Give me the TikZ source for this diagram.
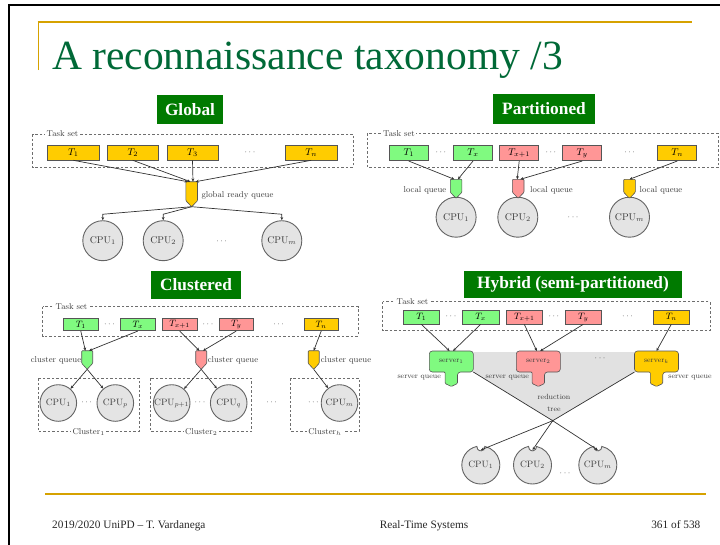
\RequirePackage{fix-cm}
\documentclass[tikz,border=0pt]{standalone}
\usepackage{fontspec}
\newfontfamily\slidefont{Liberation Serif}
\usetikzlibrary{arrows.meta}
\definecolor{titlegreen}{RGB}{0,105,55}
\definecolor{headgreen}{RGB}{0,122,0}
\definecolor{linegold}{RGB}{214,162,0}
\definecolor{tgreen}{RGB}{128,250,128}
\definecolor{tred}{RGB}{255,150,150}
\definecolor{tgold}{RGB}{255,204,0}
\definecolor{cpufill}{RGB}{228,228,228}
\definecolor{cpuborder}{RGB}{100,100,100}
\definecolor{taskborder}{RGB}{85,85,85}
\definecolor{txtgray}{RGB}{60,60,60}
\definecolor{dashgray}{RGB}{110,110,110}
\definecolor{linegray}{RGB}{50,50,50}
\definecolor{treegray}{RGB}{225,225,225}
\newcommand\dfont{\fontsize{8.5}{10}\selectfont}
\newcommand\sfont{\fontsize{7.5}{9}\selectfont}
\newcommand\bigfont{\fontsize{9.8}{11}\selectfont}
\newcommand\midfont{\fontsize{9.2}{11}\selectfont}
\tikzset{
  qshape/.style={draw=taskborder, line width=0.6pt, rounded corners=0.8pt},
  task/.style={draw=taskborder, line width=0.6pt, inner sep=0pt, font=\bigfont},
  cpu/.style={circle, draw=cpuborder, fill=cpufill, line width=0.9pt, inner sep=0pt, text=txtgray, font=\bigfont},
  cpushape/.style={draw=cpuborder, fill=cpufill, line width=0.9pt},
  cputxt/.style={text=txtgray, font=\midfont, inner sep=0pt},
  tset/.style={draw=dashgray, line width=0.6pt, dash pattern=on 2.5pt off 2pt},
  lbl/.style={text=txtgray, font=\dfont, inner sep=1pt},
  slbl/.style={text=txtgray, font=\sfont, inner sep=1pt},
  tsetlbl/.style={lbl, fill=white, inner sep=1.5pt},
  dots/.style={text=txtgray, font=\dfont, inner sep=0pt},
  arr/.style={draw=linegray, line width=0.7pt, -{Stealth[length=3.2pt,width=2.8pt]}},
  ln/.style={draw=linegray, line width=0.7pt},
  head/.style={fill=headgreen, text=white, font=\slidefont\bfseries\fontsize{17.3}{20}\selectfont, inner sep=0pt},
}
\newcommand\queue[6]{%
  \draw[qshape, fill=#5] (#2-#6,#3) -- (#2+#6,#3) -- (#2+#6,#4-6) -- (#2,#4) -- (#2-#6,#4-6) -- cycle;
  \coordinate (#1-top) at (#2,#3);
  \coordinate (#1-tip) at (#2,#4);}
\newcommand\server[5]{%
  \draw[draw=taskborder, line width=0.6pt, fill=#4] (#2-22,#3+10) [rounded corners=3pt] -- (#2-22,#3) -- (#2+22,#3) -- (#2+22,#3+21) -- (#2+6.2,#3+21) [rounded corners=1pt] -- (#2+6.2,#3+32.5) -- (#2,#3+35.5) -- (#2-6.2,#3+32.5) -- (#2-6.2,#3+21) [rounded corners=3pt] -- (#2-22,#3+21) -- cycle;
  \node[slbl] (#1) at (#2,#3+10.5) {#5};
  \coordinate (#1-br) at (#2+22,#3+21);
  \coordinate (#1-bl) at (#2-22,#3+21);}
\newcommand\ncpu[4]{%
  \draw[cpushape] (#2-4,#3-18.57) arc[start angle=102.2, end angle=437.8, radius=19pt] arc[start angle=6, end angle=-186, radius=4pt] -- cycle;
  \node[cputxt] (#1) at (#2,#3) {#4};
  \coordinate (#1-n) at (#2,#3-15);}
\begin{document}
\begin{tikzpicture}[x=1pt,y=-1pt]
\useasboundingbox (0,0) rectangle (720,544);
% slide frame
\draw[line width=2.2pt, black] (9.3,546) -- (9.3,5) -- (722,5);
\draw[linegold, line width=1.3pt] (38.3,70) -- (38.3,21.7);
\draw[linegold, line width=2pt] (37.7,21.7) -- (691.7,21.7);
\draw[linegold, line width=2pt] (45,494) -- (706,494);
\node[anchor=base west, inner sep=0pt, text=titlegreen, font=\slidefont\fontsize{41.5}{48}\selectfont] (title) at (52,69.5) {A reconnaissance taxonomy /3};
\node[anchor=base west, inner sep=0pt, text=black!85, font=\slidefont\fontsize{11.3}{13}\selectfont] (foot1) at (52,528) {2019/2020 UniPD – T. Vardanega};
\node[anchor=base, inner sep=0pt, text=black!85, font=\slidefont\fontsize{11.3}{13}\selectfont] (foot2) at (424,528) {Real-Time Systems};
\node[anchor=base east, inner sep=0pt, text=black!85, font=\slidefont\fontsize{11.3}{13}\selectfont] (foot3) at (700.5,528) {361 of 538};

% ================= Global =================
\node[head, minimum width=66pt, minimum height=29pt] (hg) at (190,109.5) {Global};
\draw[tset] (32.7,134) rectangle (353,167.3);
\node[tsetlbl] (gts) at (62.5,134) {Task set};
\node[task, fill=tgold, minimum width=51.3pt, minimum height=15pt] (g1) at (73.3,152.5) {$T_1$};
\node[task, fill=tgold, minimum width=51.3pt, minimum height=15pt] (g2) at (132.8,152.5) {$T_2$};
\node[task, fill=tgold, minimum width=51.3pt, minimum height=15pt] (g3) at (192.5,152.5) {$T_3$};
\node[dots] (gd) at (250,152.5) {$\cdots$};
\node[task, fill=tgold, minimum width=51.3pt, minimum height=15pt] (gn) at (311.2,152.5) {$T_n$};
\queue{gq}{191.7}{181.7}{206.7}{tgold}{5.8}
\coordinate (gqa) at (187.8,181.7);
\coordinate (gqb) at (190.4,181.7);
\coordinate (gqc) at (193,181.7);
\coordinate (gqd) at (195.6,181.7);
\draw[arr] (g1.south) -- (gqa);
\draw[arr] (g2.south) -- (gqb);
\draw[arr] (g3.south) -- (gqc);
\draw[arr] (gn.south) -- (gqd);
\node[lbl] (gql) at (237.5,195) {global ready queue};
\node[cpu, minimum size=40pt] (gc1) at (102.8,240.7) {CPU$_1$};
\node[cpu, minimum size=40pt] (gc2) at (163.2,240.7) {CPU$_2$};
\node[dots] (gcd) at (221.7,241.7) {$\cdots$};
\node[cpu, minimum size=40pt] (gcm) at (281.8,240.7) {CPU$_m$};
\draw[arr] (gq-tip) -- ([yshift=6pt]gc1.north) -- (gc1.north);
\draw[arr] (gq-tip) -- ([yshift=6pt]gc2.north) -- (gc2.north);
\draw[arr] (gq-tip) -- ([yshift=6pt]gcm.north) -- (gcm.north);

% ================= Partitioned =================
\node[head, minimum width=102pt, minimum height=30pt] (hp) at (544,109) {Partitioned};
\draw[tset] (367.3,133.3) rectangle (718,167.3);
\node[tsetlbl] (pts) at (399,133.3) {Task set};
\node[task, fill=tgreen, minimum width=39pt, minimum height=15.5pt] (p1) at (408.8,153) {$T_1$};
\node[dots] (pd1) at (440.8,153) {$\cdots$};
\node[task, fill=tgreen, minimum width=39pt, minimum height=15.5pt] (px) at (473,153) {$T_x$};
\node[task, fill=tred, minimum width=39pt, minimum height=15.5pt] (px1) at (519.2,153) {$T_{x+1}$};
\node[dots] (pd2) at (550.9,153) {$\cdots$};
\node[task, fill=tred, minimum width=39pt, minimum height=15.5pt] (py) at (582.2,153) {$T_y$};
\node[dots] (pd3) at (629.7,153) {$\cdots$};
\node[task, fill=tgold, minimum width=39pt, minimum height=15.5pt] (pn) at (677.2,153) {$T_n$};
\node[cpu, minimum size=40pt] (pc1) at (456.1,217.2) {CPU$_1$};
\node[cpu, minimum size=40pt] (pc2) at (517.8,217.2) {CPU$_2$};
\node[dots] (pcd) at (573,217.2) {$\cdots$};
\node[cpu, minimum size=40pt] (pcm) at (629.5,217.2) {CPU$_m$};
\queue{pq1}{456.1}{179.3}{198.3}{tgreen}{5.8}
\queue{pq2}{518.2}{179.3}{198.3}{tred}{5.8}
\queue{pq3}{629.5}{179.3}{198.3}{tgold}{5.8}
\coordinate (pq1a) at (454.3,179.3);
\coordinate (pq1b) at (457.9,179.3);
\coordinate (pq2a) at (517.2,179.3);
\coordinate (pq2b) at (520.3,179.3);
\draw[arr] (p1.south) -- (pq1a);
\draw[arr] (px.south) -- (pq1b);
\draw[arr] (px1.south) -- (pq2a);
\draw[arr] (py.south) -- (pq2b);
\draw[arr] (pn.south) -- (pq3-top);
\node[lbl] (pql1) at (425,190) {local queue};
\node[lbl] (pql2) at (551.5,190) {local queue};
\node[lbl] (pql3) at (661,190) {local queue};

% ================= Clustered =================
\node[head, minimum width=90pt, minimum height=28pt] (hc) at (196,285) {Clustered};
\draw[tset] (42.7,306.7) rectangle (358,336);
\node[tsetlbl] (cts) at (71.5,306.7) {Task set};
\node[task, font=\midfont, fill=tgreen, minimum width=34.5pt, minimum height=12.5pt] (c1) at (80.8,324.5) {$T_1$};
\node[dots] (cd1) at (109.5,324.5) {$\cdots$};
\node[task, font=\midfont, fill=tgreen, minimum width=34.5pt, minimum height=12.5pt] (cx) at (137.8,324.5) {$T_x$};
\node[task, font=\midfont, fill=tred, minimum width=34.5pt, minimum height=12.5pt] (cx1) at (179.7,324.5) {$T_{x+1}$};
\node[dots] (cd2) at (208,324.5) {$\cdots$};
\node[task, font=\midfont, fill=tred, minimum width=34.5pt, minimum height=12.5pt] (cy) at (236.3,324.5) {$T_y$};
\node[dots] (cd3) at (278.7,324.5) {$\cdots$};
\node[task, font=\midfont, fill=tgold, minimum width=34.5pt, minimum height=12.5pt] (cn) at (321.2,324.5) {$T_n$};
\draw[tset] (38.3,378.3) rectangle (139,431.7);
\draw[tset] (150.7,378.3) rectangle (251.7,431.7);
\draw[tset] (290.7,378.3) rectangle (359,431.7);
\node[tsetlbl] (cl1) at (88.7,431.7) {Cluster$_1$};
\node[tsetlbl] (cl2) at (201.2,431.7) {Cluster$_2$};
\node[tsetlbl] (clh) at (325,431.7) {Cluster$_h$};
\queue{cq1}{87.2}{350.7}{369.3}{tgreen}{5.5}
\queue{cq2}{201.2}{350.7}{369.3}{tred}{5.5}
\queue{cq3}{313.7}{350.7}{369.3}{tgold}{5.5}
\coordinate (cq1a) at (85.4,350.7);
\coordinate (cq1b) at (89,350.7);
\coordinate (cq2a) at (199.4,350.7);
\coordinate (cq2b) at (203,350.7);
\draw[arr] (c1.south) -- (cq1a);
\draw[arr] (cx.south) -- (cq1b);
\draw[arr] (cx1.south) -- (cq2a);
\draw[arr] (cy.south) -- (cq2b);
\draw[arr] (cn.south) -- (cq3-top);
\node[lbl] (cql1) at (56,360) {cluster queue};
\node[lbl] (cql2) at (233,360) {cluster queue};
\node[lbl] (cql3) at (346,360) {cluster queue};
\node[cpu, font=\midfont, minimum size=36.6pt] (cc1) at (58.3,403) {CPU$_1$};
\node[dots] (ccd1) at (86.7,403) {$\cdots$};
\node[cpu, font=\midfont, minimum size=36.6pt] (ccp) at (115.3,403) {CPU$_p$};
\node[cpu, font=\midfont, minimum size=36.6pt] (ccp1) at (171.7,403) {CPU$_{p+1}$};
\node[dots] (ccd2) at (200,403) {$\cdots$};
\node[cpu, font=\midfont, minimum size=36.6pt] (ccq) at (228.7,403) {CPU$_q$};
\node[dots] (ccd3) at (271.7,403) {$\cdots$};
\node[dots] (ccd4) at (313.3,403) {$\cdots$};
\node[cpu, font=\midfont, minimum size=36.6pt] (ccm) at (339.5,403) {CPU$_m$};
\draw[arr] (cq1-tip) -- (cc1);
\draw[arr] (cq1-tip) -- (ccp);
\draw[arr] (cq2-tip) -- (ccp1);
\draw[arr] (cq2-tip) -- (ccq);
\draw[arr] (cq3-tip) -- (ccm);

% ================= Hybrid =================
\node[head, minimum width=218pt, minimum height=27.5pt] (hh) at (573,284.5) {Hybrid (semi-partitioned)};
\draw[tset] (382.7,301.7) rectangle (710,330.7);
\node[tsetlbl] (hts) at (412.5,301.7) {Task set};
\node[task, font=\midfont, fill=tgreen, minimum width=36.7pt, minimum height=14pt] (h1) at (421.3,317) {$T_1$};
\node[dots] (hd1) at (451,317) {$\cdots$};
\node[task, font=\midfont, fill=tgreen, minimum width=36.7pt, minimum height=14pt] (hx) at (480.7,317) {$T_x$};
\node[task, font=\midfont, fill=tred, minimum width=36.7pt, minimum height=14pt] (hx1) at (524.3,317) {$T_{x+1}$};
\node[dots] (hd2) at (553.8,317) {$\cdots$};
\node[task, font=\midfont, fill=tred, minimum width=36.7pt, minimum height=14pt] (hy) at (583.3,317) {$T_y$};
\node[dots] (hd3) at (627.5,317) {$\cdots$};
\node[task, font=\midfont, fill=tgold, minimum width=36.7pt, minimum height=14pt] (hn) at (671.3,317) {$T_n$};
\coordinate (apex) at (552.7,420.7);
\fill[treegray] (473.3,352) -- (635,352) -- (635,372) -- (apex) -- (473.3,372) -- cycle;
\server{s1}{451.3}{351}{tgreen}{server$_1$}
\server{s2}{538.3}{351}{tred}{server$_2$}
\server{sk}{656.5}{351}{tgold}{server$_k$}
\node[dots] (hsd) at (600,359) {$\cdots$};
\coordinate (s1a) at (449.6,351);
\coordinate (s1b) at (453,351);
\coordinate (s2a) at (536.8,351);
\coordinate (s2b) at (540.2,351);
\coordinate (ska) at (656.5,351);
\draw[arr] (h1.south) -- (s1a);
\draw[arr] (hx.south) -- (s1b);
\draw[arr] (hx1.south) -- (s2a);
\draw[arr] (hy.south) -- (s2b);
\draw[arr] (hn.south) -- (ska);
\node[slbl] (sq1) at (419.2,378) {server queue};
\node[slbl] (sq2) at (507.2,378) {server queue};
\node[slbl] (sq3) at (690,378) {server queue};
\node[slbl, align=center, font=\fontsize{7.5}{12}\selectfont] (rt) at (554,403.3) {reduction\\tree};
\draw[ln] (s1-br) -- (apex);
\draw[ln] (sk-bl) -- (apex);
\ncpu{hc1}{480.8}{465}{CPU$_1$}
\ncpu{hc2}{532.5}{465}{CPU$_2$}
\node[dots] (hcd) at (565,473.3) {$\cdots$};
\ncpu{hcm}{597.8}{465}{CPU$_m$}
\draw[arr] (apex) -- (hc1-n);
\draw[arr] (apex) -- (hc2-n);
\draw[arr] (apex) -- (hcm-n);
\fill[linegray] (apex) circle (1);
\end{tikzpicture}
\end{document}
